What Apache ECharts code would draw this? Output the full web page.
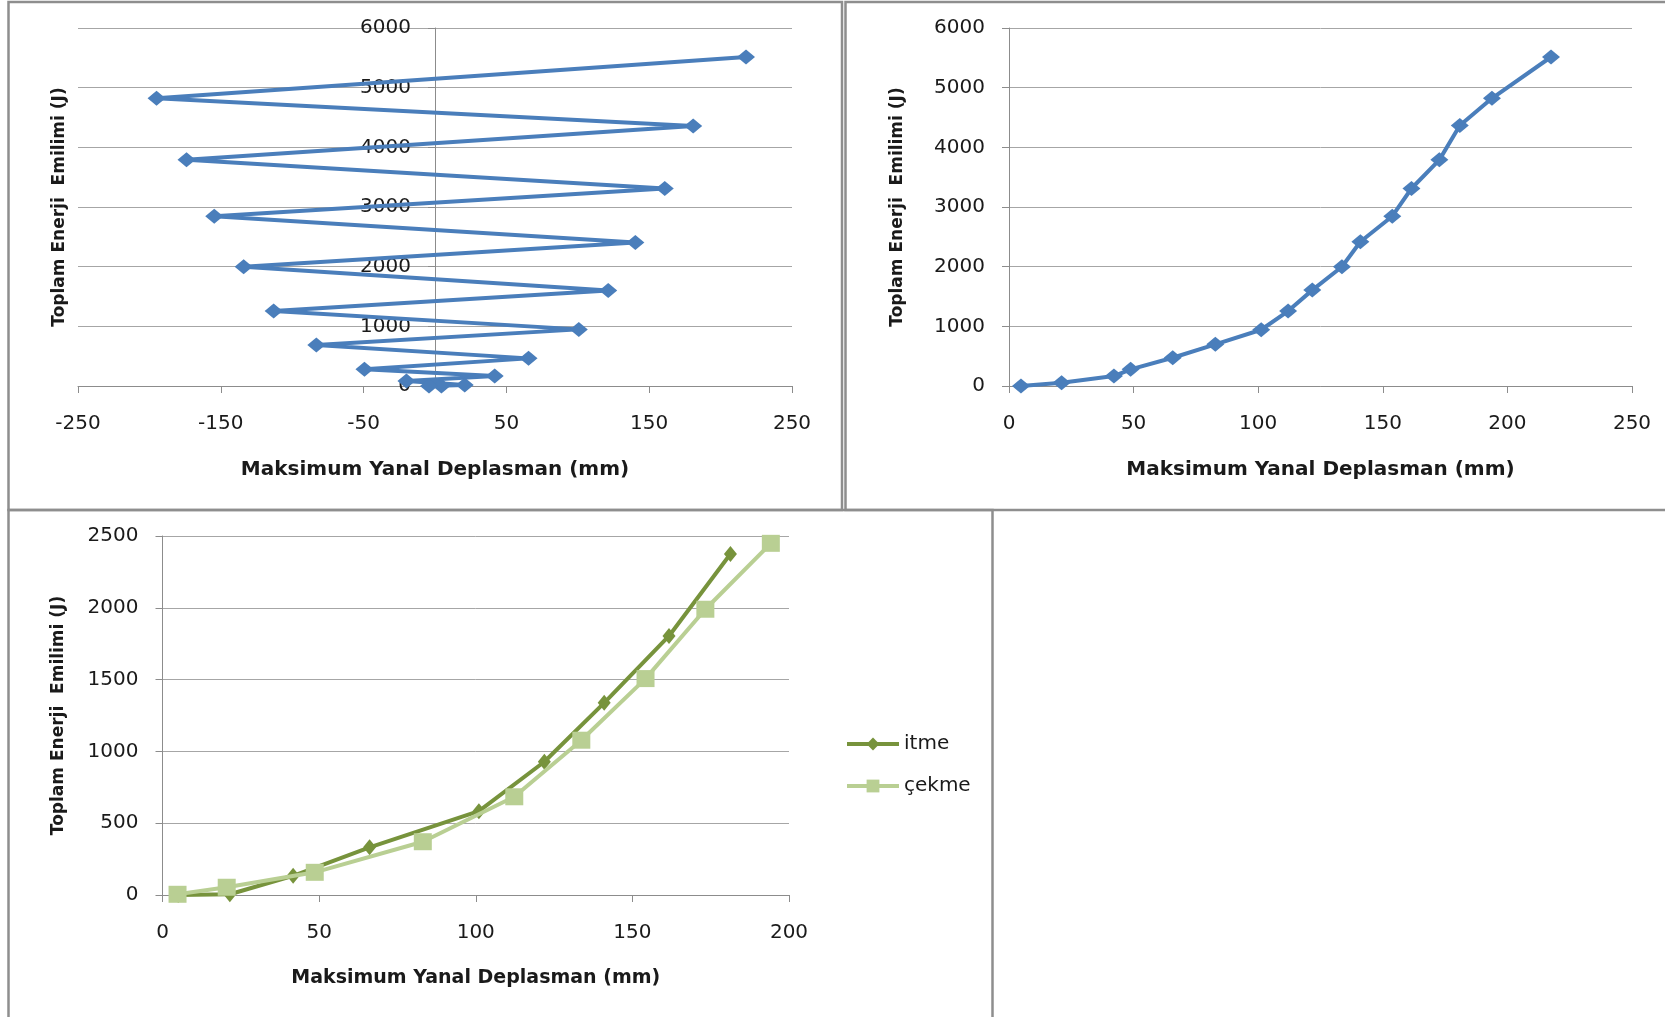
<!DOCTYPE html>
<html>
<head>
<meta charset="utf-8">
<title>Toplam Enerji Emilimi</title>
<script src="https://cdn.jsdelivr.net/npm/echarts@6/dist/echarts.min.js"></script>
<style>
  html, body { margin: 0; padding: 0; background: #ffffff; }
  #chart { width: 1665px; height: 1017px; }
</style>
</head>
<body>
<div id="chart"></div>
<script>
// Cyclic test: signed peak displacement vs cumulative energy, in loading order
const cycleDisp = [4.5, -4.2, 20.8, -20.0, 41.8, -49.4, 65.5, -83.1, 100.7, -113.0, 121.3, -134.0, 140.3, -154.6, 160.9, -174.0, 180.8, -195.0, 217.8];
const cycleEnergy = [0, 0, 17, 84, 167, 279, 463, 686, 949, 1256, 1602, 1998, 2405, 2846, 3310, 3790, 4359, 4822, 5514];

// Envelope: absolute peak displacement vs cumulative energy
const envDisp = [4.8, 21.1, 42.1, 48.8, 65.7, 82.8, 101.2, 112.0, 121.7, 133.6, 141.0, 153.8, 161.5, 172.7, 180.9, 193.8, 217.5];
const envEnergy = [0, 55, 167, 279, 474, 698, 943, 1256, 1607, 1998, 2417, 2846, 3310, 3790, 4365, 4822, 5514];

// Push (itme) and pull (çekme) directions separately
const itmeDisp = [5.0, 21.5, 41.7, 66.1, 101.0, 121.9, 141.0, 161.7, 181.3];
const itmeEnergy = [0, 5, 134, 332, 584, 928, 1338, 1804, 2375];
const cekmeDisp = [4.8, 20.5, 48.6, 83.1, 112.3, 133.7, 154.2, 173.3, 194.2];
const cekmeEnergy = [5, 54, 158, 371, 684, 1078, 1507, 1990, 2449];

const seriesNames = ['itme', 'çekme'];
const xTitle = 'Maksimum Yanal Deplasman (mm)';
const yTitle = 'Toplam Enerji  Emilimi (J)';

const pairs = (xs, ys) => xs.map((x, i) => [x, ys[i]]);

const BLUE = '#4A7EBB';
const DARK_GREEN = '#77933C';
const LIGHT_GREEN = '#B9CF93';
const GRID_GRAY = '#A6A6A6';
const AXIS_GRAY = '#8C8C8C';
const TEXT = '#1a1a1a';
const tickFont = { fontFamily: 'DejaVu Sans', fontSize: 20, color: TEXT };
const titleFontX = { fontFamily: 'DejaVu Sans', fontWeight: 'bold', fontSize: 20, color: TEXT };
const titleFontY = { fontFamily: 'DejaVu Sans', fontWeight: 'bold', fontSize: 17, color: TEXT };
const plainNumber = v => String(v);

// First panel: the energy axis sits at zero displacement, halfway across the plot
const grid1 = { left: 78, top: 28, width: 714, height: 358 };
const zeroOffset = -grid1.width / 2;

function xAxisCfg(gridIndex, min, max, interval, fontSize) {
  return {
    type: 'value', gridIndex, min, max, interval,
    name: xTitle, nameLocation: 'middle', nameGap: 74,
    nameTextStyle: Object.assign({}, titleFontX, { fontSize: fontSize }),
    axisLine: { show: true, onZero: false, lineStyle: { color: AXIS_GRAY, width: 1 } },
    axisTick: { show: true, inside: false, length: 7, lineStyle: { color: AXIS_GRAY } },
    axisLabel: Object.assign({ margin: 28, formatter: plainNumber }, tickFont),
    splitLine: { show: false }
  };
}

function yAxisCfg(gridIndex, min, max, interval, nameGap, offset) {
  return {
    type: 'value', gridIndex, min, max, interval, offset,
    name: yTitle, nameLocation: 'middle', nameGap,
    nameTextStyle: titleFontY,
    axisLine: { show: true, onZero: false, lineStyle: { color: AXIS_GRAY, width: 1 } },
    axisTick: { show: true, inside: false, length: 7, lineStyle: { color: AXIS_GRAY } },
    axisLabel: Object.assign({ margin: 24, formatter: plainNumber }, tickFont),
    splitLine: { show: true, lineStyle: { color: GRID_GRAY, width: 1 } }
  };
}

const panelStroke = { stroke: '#8E8E8E', lineWidth: 2.5, fill: 'none' };
const noBounds = { outerBoundsMode: 'none', containLabel: false };

const option = {
  animation: false,
  backgroundColor: '#ffffff',
  grid: [
    Object.assign({}, grid1, noBounds),
    Object.assign({ left: 1009, top: 28, width: 623, height: 358 }, noBounds),
    Object.assign({ left: 162.5, top: 536, width: 626.5, height: 359 }, noBounds)
  ],
  xAxis: [
    xAxisCfg(0, -250, 250, 100, 20),
    xAxisCfg(1, 0, 250, 50, 20),
    xAxisCfg(2, 0, 200, 50, 19)
  ],
  yAxis: [
    yAxisCfg(0, 0, 6000, 1000, 367, zeroOffset),
    yAxisCfg(1, 0, 6000, 1000, 103, 0),
    yAxisCfg(2, 0, 2500, 500, 95, 0)
  ],
  legend: {
    orient: 'vertical',
    left: 845, top: 734,
    padding: 0,
    itemWidth: 52, itemHeight: 16, itemGap: 22,
    lineStyle: { width: 4 },
    textStyle: { fontFamily: 'DejaVu Sans', fontSize: 20, color: TEXT },
    data: seriesNames
  },
  graphic: [
    { type: 'rect', shape: { x: 8.5, y: 2, width: 833.5, height: 508 }, style: panelStroke, silent: true },
    { type: 'rect', shape: { x: 845.5, y: 2, width: 830, height: 508 }, style: panelStroke, silent: true },
    { type: 'rect', shape: { x: 8.5, y: 510, width: 984, height: 520 }, style: panelStroke, silent: true }
  ],
  series: [
    {
      type: 'line', xAxisIndex: 0, yAxisIndex: 0,
      data: pairs(cycleDisp, cycleEnergy),
      symbol: 'diamond', symbolSize: [18, 15],
      lineStyle: { color: BLUE, width: 4 },
      itemStyle: { color: BLUE },
      z: 3
    },
    {
      type: 'line', xAxisIndex: 1, yAxisIndex: 1,
      data: pairs(envDisp, envEnergy),
      symbol: 'diamond', symbolSize: [18, 15],
      lineStyle: { color: BLUE, width: 4 },
      itemStyle: { color: BLUE },
      z: 3
    },
    {
      name: seriesNames[0],
      type: 'line', xAxisIndex: 2, yAxisIndex: 2,
      data: pairs(itmeDisp, itmeEnergy),
      symbol: 'diamond', symbolSize: [13, 16],
      lineStyle: { color: DARK_GREEN, width: 4 },
      itemStyle: { color: DARK_GREEN },
      z: 3
    },
    {
      name: seriesNames[1],
      type: 'line', xAxisIndex: 2, yAxisIndex: 2,
      data: pairs(cekmeDisp, cekmeEnergy),
      symbol: 'rect', symbolSize: [18, 17],
      lineStyle: { color: LIGHT_GREEN, width: 4 },
      itemStyle: { color: LIGHT_GREEN },
      z: 4
    }
  ]
};

const chart = echarts.init(document.getElementById('chart'), null, { renderer: 'canvas' });
chart.setOption(option);
</script>
</body>
</html>
